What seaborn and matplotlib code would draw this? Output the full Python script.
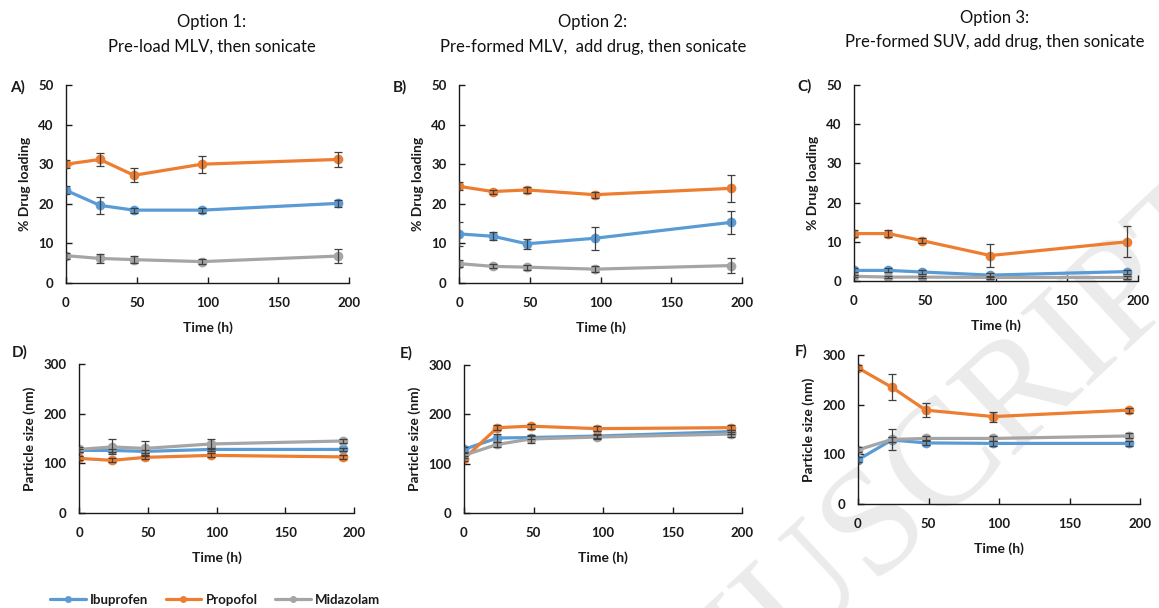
import numpy as np
import pandas as pd
import matplotlib
matplotlib.use("Agg")
import matplotlib.pyplot as plt
import seaborn as sns

sns.set_theme(style="white")
plt.rcParams['font.family'] = ['Lato', 'DejaVu Sans']

# ---------------- data ----------------
time_h = [0, 24, 48, 96, 192]
drugs = ["Ibuprofen", "Propofol", "Midazolam"]
colors = {"Ibuprofen": "#5B9BD5", "Propofol": "#ED7D31", "Midazolam": "#A5A5A5"}

# % Drug loading
A_ibu = [23.4, 19.6, 18.4, 18.4, 20.1]
A_pro = [30.0, 31.2, 27.2, 30.0, 31.2]
A_mid = [6.9, 6.2, 5.9, 5.4, 6.8]
A_ibu_err = [1.0, 2.1, 0.6, 0.6, 0.8]
A_pro_err = [1.0, 1.6, 1.8, 2.1, 1.9]
A_mid_err = [0.8, 1.2, 0.8, 0.6, 1.8]

B_ibu = [12.4, 11.8, 9.9, 11.3, 15.3]
B_pro = [24.4, 23.1, 23.5, 22.3, 23.9]
B_mid = [4.9, 4.2, 4.0, 3.5, 4.4]
B_ibu_err = [3.0, 1.0, 1.3, 2.9, 2.8]
B_pro_err = [1.0, 0.5, 0.8, 0.8, 3.4]
B_mid_err = [0.8, 0.5, 0.6, 0.8, 1.9]

C_ibu = [2.7, 2.7, 2.3, 1.5, 2.4]
C_pro = [12.1, 12.1, 10.3, 6.5, 10.0]
C_mid = [1.2, 1.0, 1.0, 0.9, 0.9]
C_ibu_err = [0.5, 0.5, 0.5, 0.5, 0.5]
C_pro_err = [0.8, 0.8, 0.6, 3.0, 4.0]
C_mid_err = [0.3, 0.3, 0.3, 0.3, 0.3]

# Particle size (nm)
D_ibu = [126, 126, 124, 128, 128]
D_pro = [110, 106, 112, 116, 113]
D_mid = [128, 133, 130, 139, 145]
D_ibu_err = [3, 3, 3, 3, 3]
D_pro_err = [4, 4, 4, 4, 4]
D_mid_err = [5, 15, 15, 10, 5]

E_ibu = [129, 152, 153, 156, 165]
E_pro = [110, 173, 176, 171, 173]
E_mid = [117, 139, 150, 154, 160]
E_ibu_err = [5, 8, 4, 4, 4]
E_pro_err = [5, 5, 5, 5, 5]
E_mid_err = [5, 5, 8, 5, 5]

F_ibu = [89, 129, 123, 122, 122]
F_pro = [274, 235, 189, 176, 189]
F_mid = [109, 130, 132, 132, 137]
F_ibu_err = [5, 5, 5, 5, 5]
F_pro_err = [5, 26, 14, 10, 5]
F_mid_err = [5, 21, 5, 5, 5]

title_line1 = ["Option 1:", "Option 2:", "Option 3:"]
title_line2 = ["Pre-load MLV, then sonicate",
               "Pre-formed MLV,  add drug, then sonicate",
               "Pre-formed SUV, add drug, then sonicate"]
panel_labels = ["A)", "B)", "C)", "D)", "E)", "F)"]
watermark = "ACCEPTED MANUSCRIPT"

panels = [
    (A_ibu, A_pro, A_mid, A_ibu_err, A_pro_err, A_mid_err),
    (B_ibu, B_pro, B_mid, B_ibu_err, B_pro_err, B_mid_err),
    (C_ibu, C_pro, C_mid, C_ibu_err, C_pro_err, C_mid_err),
    (D_ibu, D_pro, D_mid, D_ibu_err, D_pro_err, D_mid_err),
    (E_ibu, E_pro, E_mid, E_ibu_err, E_pro_err, E_mid_err),
    (F_ibu, F_pro, F_mid, F_ibu_err, F_pro_err, F_mid_err),
]

# ---------------- layout (pixels) ----------------
W, H = 1159, 608
fig = plt.figure(figsize=(W / 100, H / 100), dpi=100)

# faint watermark behind everything
fig.text(1228 / W, 1 - 207 / H, watermark, rotation=43, rotation_mode="anchor",
         ha="right", va="center", fontsize=110, family="Liberation Serif",
         color="#EBEBEB", zorder=-5)

def rect(l, r, t, b):
    return [l / W, 1 - b / H, (r - l) / W, (b - t) / H]

rects = [rect(66, 349, 85, 283), rect(459, 742, 85, 283), rect(854, 1138, 85, 281),
         rect(79, 354, 364, 513), rect(464, 742, 365, 513), rect(858, 1140, 355, 504)]
label_pos = [(10, 87), (393, 87), (797, 86), (12, 352), (400, 353), (795, 351)]
title_x = [212, 593, 995]
title_y1 = [22, 22, 18]
title_y2 = [47, 47, 42]

DARK = "#1a1a1a"
TICK_FS = 9.5
LAB_FS = 10

for i, (r, data) in enumerate(zip(rects, panels)):
    ax = fig.add_axes(r, zorder=1)
    ibu, pro, mid, ibu_e, pro_e, mid_e = data
    df = pd.DataFrame({
        "Time": time_h * 3,
        "Value": list(ibu) + list(pro) + list(mid),
        "Err": list(ibu_e) + list(pro_e) + list(mid_e),
        "Drug": ["Ibuprofen"] * 5 + ["Propofol"] * 5 + ["Midazolam"] * 5,
    })
    sns.lineplot(data=df, x="Time", y="Value", hue="Drug", hue_order=drugs,
                 palette=colors, marker="o", markersize=7, markeredgewidth=0,
                 linewidth=2.3, ax=ax, legend=(i == 0), zorder=2)
    for d in drugs:
        sub = df[df.Drug == d]
        ax.errorbar(sub.Time, sub.Value, yerr=sub.Err, fmt="none",
                    ecolor="#404040", elinewidth=0.9, capsize=3.2, capthick=0.9, zorder=3)
    ax.set_xlim(0, 200)
    if i < 3:
        ax.set_ylim(0, 50)
        ax.set_yticks([0, 10, 20, 30, 40, 50])
        ax.set_ylabel("% Drug loading", fontsize=LAB_FS, fontweight="bold", color=DARK, labelpad=5)
    else:
        ax.set_ylim(0, 300)
        ax.set_yticks([0, 100, 200, 300])
        ax.set_ylabel("Particle size (nm)", fontsize=LAB_FS, fontweight="bold", color=DARK, labelpad=5)
    ax.set_xticks([0, 50, 100, 150, 200])
    ax.set_xlabel("Time (h)", fontsize=LAB_FS, fontweight="bold", color=DARK, labelpad=9)
    for lab in ax.get_xticklabels() + ax.get_yticklabels():
        lab.set_fontsize(TICK_FS)
        lab.set_fontweight("bold")
        lab.set_color(DARK)
    ax.tick_params(axis="both", direction="in", length=4, width=1, color=DARK,
                   left=True, bottom=True)
    ax.tick_params(axis="x", pad=10)
    ax.tick_params(axis="y", pad=9)
    for s in ["top", "right"]:
        ax.spines[s].set_visible(False)
    for s in ["left", "bottom"]:
        ax.spines[s].set_color(DARK)
        ax.spines[s].set_linewidth(1.0)
    ax.patch.set_alpha(0)

    if i == 0:
        handles, labels = ax.get_legend_handles_labels()
        ax.get_legend().remove()
        leg = fig.legend(handles, labels, loc="center left",
                         bbox_to_anchor=(50 / W, 1 - 600 / H), ncol=3, frameon=False,
                         prop=dict(family="Lato", weight="bold", size=9.5),
                         handlelength=2.7, columnspacing=1.3, handletextpad=0.35,
                         borderpad=0, borderaxespad=0)
        for h in leg.legend_handles:
            h.set_markersize(5)
            h.set_linewidth(2.3)
        for t in leg.get_texts():
            t.set_color(DARK)

    lx, ly = label_pos[i]
    fig.text(lx / W, 1 - ly / H, panel_labels[i], fontsize=11, fontweight="bold",
             color=DARK, ha="left", va="center")

for x, y1, y2, t1, t2 in zip(title_x, title_y1, title_y2, title_line1, title_line2):
    fig.text(x / W, 1 - y1 / H, t1, fontsize=12, color="#111111", ha="center", va="center")
    fig.text(x / W, 1 - y2 / H, t2, fontsize=12, color="#111111", ha="center", va="center")

fig.savefig("out.png", dpi=100, facecolor="white")
